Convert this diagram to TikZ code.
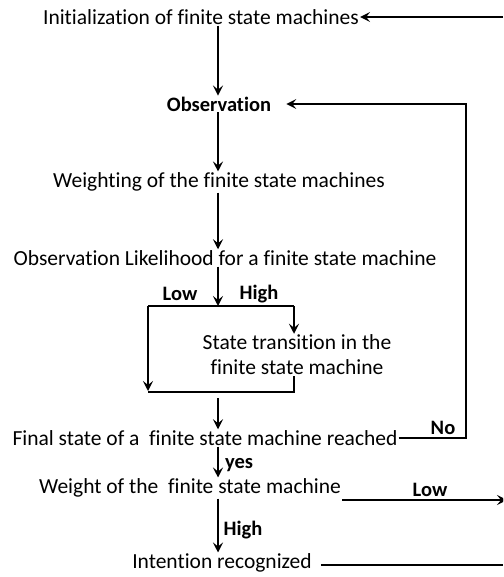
\documentclass[tikz,border=0pt]{standalone}
\usepackage{fontspec}
\setmainfont[Ligatures=NoCommon]{Carlito}
\usetikzlibrary{arrows.meta}
\begin{document}
\begin{tikzpicture}
[x=1pt,y=-1pt,
  stepnode/.style={inner sep=1pt,font=\fontsize{21.5}{25}\selectfont},
  boldnode/.style={inner sep=1pt,font=\bfseries\fontsize{20.5}{24}\selectfont},
  linedecorate/.style={line width=2.2pt},
  arrowdecorate/.style={line width=2.2pt,-{Stealth[length=10pt,width=10pt,inset=4pt]}}]
\useasboundingbox (0,0) rectangle (503,577);
\clip (0,0) rectangle (503,577);
%% steps of the recognition
\foreach \nodename/\x/\y/\nodestyle/\nodetext in {init/201/17/stepnode/Initialization of finite state machines,
  obs/219/104/boldnode/Observation, weighting/219/182/stepnode/Weighting of the finite state machines,
  likeli/225/258/stepnode/Observation Likelihood for a finite state machine,
  final/205/438/stepnode/Final state of a\ \ finite state machine reached,
  weight/190/488/stepnode/Weight of the\ \ finite state machine,
  intent/222/563/stepnode/Intention recognized} {
  \node (\nodename) at (\x,\y) [\nodestyle] {\nodetext};
}
\node (trans) at (297,355) [stepnode,align=center] {State transition in the\\finite state machine};
%% labels of the branches
\foreach \nodename/\x/\y/\nodetext in {lowa/180/294/Low, higha/259/294/High,
  no/443/428/No, yes/239/465/yes, lowb/430/490/Low, highb/243/530/High} {
  \node (\nodename) at (\x,\y) [boldnode] {\nodetext};
}
%% points of the connectors
\foreach \pointname/\x/\y in {spine/218/0, rx/466/0, topin/503/17, split/218/306,
  lowc/148/306, highc/294/306, lowend/148/391, joinl/148/392, joinr/294/392,
  merge/218/398, lowout/507/500, intout/503/565} {
  \coordinate (\pointname) at (\x,\y);
}
%% edges or lines
\draw[arrowdecorate] (topin) -- (init.east);
\foreach \startnode/\endnode in {init/obs, obs/weighting, weighting/likeli, final/weight, weight/intent} {
  \draw[arrowdecorate] (\startnode.south -| spine) -- (\endnode.north -| spine);
}
\draw[arrowdecorate] (likeli.south -| spine) -- (split);
\draw[linedecorate] (lowc) -- (highc);
\draw[arrowdecorate] (highc) -- (trans.north -| highc);
\draw[arrowdecorate] (lowc) -- (lowend);
\draw[linedecorate] (trans.south -| joinr) -- (joinr) -- (joinl);
\draw[arrowdecorate] (merge) -- (final.north -| spine);
\draw[arrowdecorate] (final.east) -- (final.east -| rx) -- (obs.east -| rx) -- ([xshift=14pt]obs.east);
\draw[arrowdecorate] (weight.east |- lowout) -- (lowout);
\draw[linedecorate] ([xshift=8pt]intent.east |- intout) -- (intout);
\end{tikzpicture}
\end{document}
